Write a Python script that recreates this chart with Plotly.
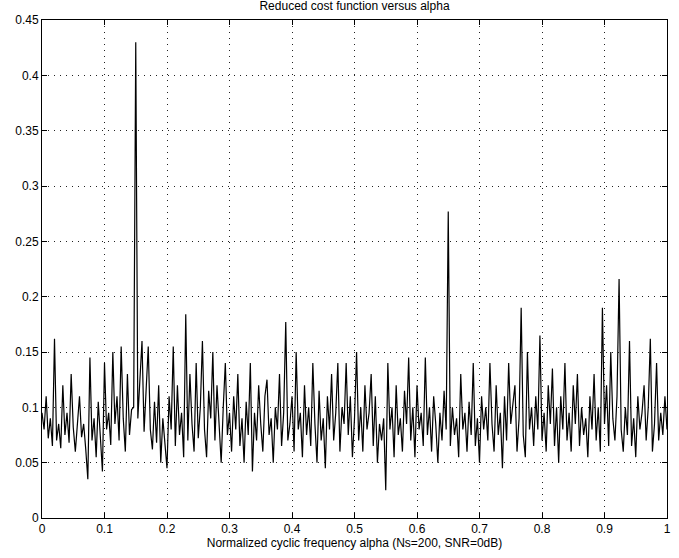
import plotly.graph_objects as go
import numpy as np

title = "Reduced cost function versus alpha"
x_label = "Normalized cyclic frequency alpha (Ns=200, SNR=0dB)"

cost_values = [
    0.095,0.08,0.11,0.072,0.09,0.065,0.162,0.07,0.085,0.063,0.12,0.075,0.095,0.068,0.13,0.082,0.06,0.09,0.11,0.073,
    0.085,0.062,0.035,0.145,0.07,0.09,0.055,0.105,0.075,0.042,0.14,0.08,0.095,0.066,0.15,0.085,0.11,0.07,0.155,0.09,
    0.06,0.13,0.075,0.098,0.1,0.43,0.09,0.125,0.16,0.078,0.115,0.155,0.08,0.062,0.105,0.068,0.12,0.05,0.09,0.07,
    0.045,0.11,0.08,0.155,0.065,0.12,0.075,0.095,0.055,0.184,0.07,0.13,0.085,0.06,0.14,0.072,0.1,0.16,0.08,0.055,
    0.115,0.09,0.15,0.07,0.12,0.085,0.05,0.1,0.14,0.075,0.095,0.06,0.11,0.08,0.13,0.065,0.09,0.05,0.105,0.075,
    0.14,0.042,0.095,0.07,0.12,0.085,0.06,0.11,0.125,0.075,0.09,0.05,0.1,0.08,0.13,0.065,0.095,0.177,0.07,0.085,
    0.11,0.06,0.15,0.08,0.095,0.055,0.12,0.075,0.1,0.065,0.14,0.085,0.05,0.115,0.07,0.09,0.045,0.11,0.08,0.13,
    0.07,0.095,0.14,0.06,0.1,0.085,0.14,0.075,0.11,0.055,0.09,0.15,0.07,0.1,0.06,0.12,0.08,0.095,0.13,0.065,
    0.11,0.05,0.085,0.07,0.09,0.025,0.14,0.08,0.1,0.055,0.12,0.075,0.09,0.06,0.115,0.085,0.145,0.07,0.1,0.055,
    0.12,0.08,0.095,0.065,0.145,0.075,0.1,0.06,0.11,0.085,0.05,0.095,0.07,0.115,0.08,0.277,0.065,0.1,0.075,0.09,
    0.055,0.13,0.08,0.095,0.06,0.105,0.075,0.14,0.065,0.09,0.05,0.11,0.08,0.1,0.07,0.14,0.085,0.06,0.12,0.075,
    0.095,0.045,0.11,0.07,0.14,0.085,0.1,0.12,0.06,0.09,0.19,0.075,0.055,0.15,0.08,0.1,0.065,0.11,0.08,0.165,
    0.07,0.095,0.06,0.12,0.085,0.135,0.065,0.1,0.05,0.11,0.08,0.14,0.07,0.095,0.06,0.12,0.085,0.13,0.065,0.1,
    0.075,0.09,0.055,0.11,0.08,0.13,0.07,0.1,0.06,0.19,0.085,0.12,0.065,0.15,0.09,0.07,0.11,0.216,0.08,0.06,
    0.1,0.075,0.16,0.065,0.09,0.055,0.11,0.08,0.095,0.12,0.07,0.1,0.162,0.06,0.085,0.14,0.07,0.095,0.075,0.11,
    0.08,
]
alpha = np.linspace(0, 1, len(cost_values))

fig = go.Figure()
fig.add_trace(go.Scatter(x=alpha, y=cost_values, mode="lines",
                         line=dict(color="black", width=1.2), showlegend=False))

axis_common = dict(showline=True, linecolor="black", linewidth=1, mirror="allticks",
                   ticks="inside", ticklen=5, tickcolor="black", automargin=False,
                   showgrid=True, gridcolor="#222", gridwidth=1, griddash="1px,5px",
                   zeroline=False, tickfont=dict(family="Liberation Sans, Arial", size=12, color="black"))

fig.update_xaxes(range=[0, 1], dtick=0.1, tick0=0,
                 title=dict(text=x_label, standoff=0,
                            font=dict(family="Liberation Sans, Arial", size=12, color="black")),
                 **axis_common)
fig.update_yaxes(range=[0, 0.45], dtick=0.05, tick0=0, **axis_common)

fig.update_layout(
    width=679, height=558,
    margin=dict(l=42, r=12, t=20, b=40),
    paper_bgcolor="white", plot_bgcolor="white",
    title=dict(text=title, x=0.5, xref="paper", xanchor="center",
               y=0.997, yref="container", yanchor="top",
               font=dict(family="Liberation Sans, Arial", size=12, color="black")),
)

fig.write_html("out.html", config={"displayModeBar": False},
               post_script="document.body.style.margin='0';")
